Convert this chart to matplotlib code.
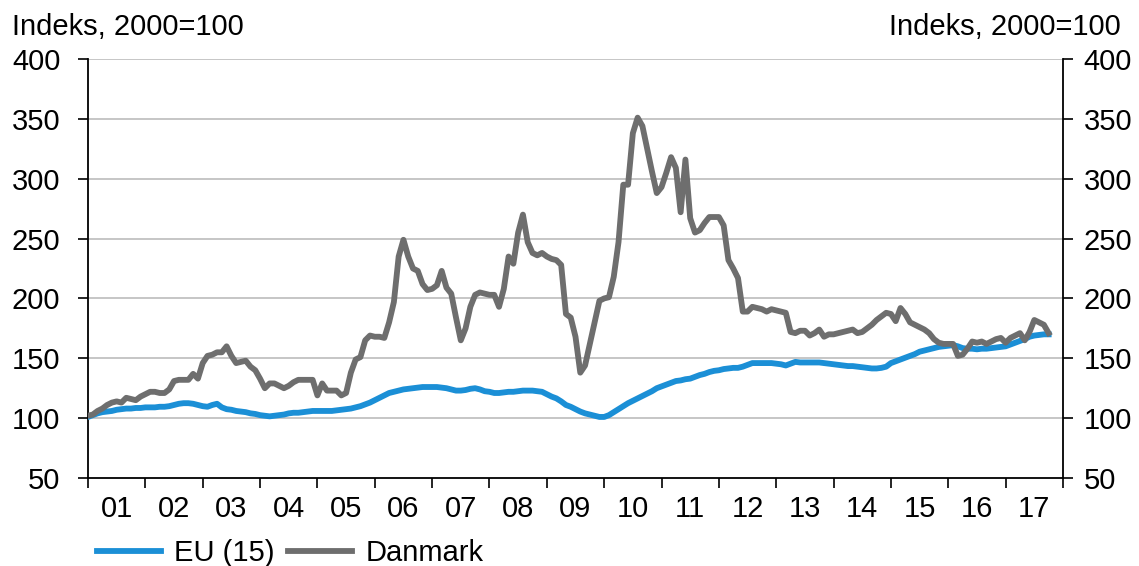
import matplotlib
matplotlib.use("Agg")
import matplotlib.pyplot as plt
from matplotlib.ticker import FixedLocator, NullFormatter, FixedFormatter

plt.rcParams['font.family'] = ['Liberation Sans', 'DejaVu Sans']

# Monthly index values, Jan 2001 - Oct 2017 (2000=100)
danmark = [
    # 2001
    102, 103, 106, 108, 111, 113, 114, 113, 117, 116, 115, 118,
    # 2002
    120, 122, 122, 121, 121, 124, 131, 132, 132, 132, 137, 133,
    # 2003
    146, 152, 153, 155, 155, 160, 152, 146, 147, 148, 143, 140,
    # 2004
    133, 125, 129, 129, 127, 125, 127, 130, 132, 132, 132, 132,
    # 2005
    119, 129, 123, 123, 123, 119, 121, 138, 149, 151, 165, 169,
    # 2006
    168, 168, 167, 180, 197, 235, 249, 235, 225, 223, 212, 207,
    # 2007
    208, 211, 223, 209, 204, 184, 165, 175, 193, 203, 205, 204,
    # 2008
    203, 203, 193, 208, 235, 229, 255, 270, 247, 238, 236, 238,
    # 2009
    235, 233, 232, 228, 187, 184, 168, 138, 144, 162, 180, 198,
    # 2010
    200, 201, 218, 247, 295, 295, 338, 351, 344, 325, 306, 288,
    # 2011
    293, 305, 318, 309, 272, 316, 267, 255, 257, 263, 268, 268,
    # 2012
    268, 261, 232, 225, 217, 189, 189, 193, 192, 191, 189, 191,
    # 2013
    190, 189, 188, 172, 171, 173, 173, 169, 171, 174, 168, 170,
    # 2014
    170, 171, 172, 173, 174, 171, 172, 175, 178, 182, 185, 188,
    # 2015
    187, 181, 192, 187, 180, 178, 176, 174, 171, 166, 163, 162,
    # 2016
    162, 162, 152, 153, 158, 164, 163, 164, 162, 164, 166, 167,
    # 2017
    163, 167, 169, 171, 165, 172, 182, 180, 178, 171,
]

eu15 = [
    # 2001
    101, 102.5, 104, 105, 105.5, 106, 107, 107.5, 108, 108, 108.5, 108.5,
    # 2002
    109, 109, 109, 109.5, 109.5, 110, 111, 112, 112.5, 112.5, 112, 111,
    # 2003
    110, 109.5, 111, 112, 109, 107.5, 107, 106, 105.5, 105, 104, 103.5,
    # 2004
    102.5, 102, 101.5, 102, 102.5, 103, 104, 104.5, 104.5, 105, 105.5, 106,
    # 2005
    106, 106, 106, 106, 106.5, 107, 107.5, 108, 109, 110, 111.5, 113,
    # 2006
    115, 117, 119, 121, 122, 123, 124, 124.5, 125, 125.5, 126, 126,
    # 2007
    126, 126, 125.5, 125, 124, 123, 123, 123.5, 124.5, 125, 124, 122.5,
    # 2008
    122, 121, 121, 121.5, 122, 122, 122.5, 123, 123, 123, 122.5, 122,
    # 2009
    120, 118, 116.5, 114, 111, 109.5, 107.5, 105.5, 104, 103, 102, 101,
    # 2010
    101, 102.5, 105, 107.5, 110, 112.5, 114.5, 116.5, 118.5, 120.5, 122.5, 125,
    # 2011
    126.5, 128, 129.5, 131, 131.5, 132.5, 133, 134.5, 136, 137, 138.5, 139.5,
    # 2012
    140, 141, 141.5, 142, 142, 143, 144.5, 146, 146, 146, 146, 146,
    # 2013
    145.5, 145, 144, 145.5, 147, 146.5, 146.5, 146.5, 146.5, 146.5, 146, 145.5,
    # 2014
    145, 144.5, 144, 143.5, 143.5, 143, 142.5, 142, 141.5, 141.5, 142, 143,
    # 2015
    146, 147.5, 149, 150.5, 152, 153.5, 155.5, 156.5, 157.5, 158.5, 159.5, 160,
    # 2016
    160.5, 161, 160, 158.5, 158, 158, 157.5, 158, 158, 158.5, 159, 159.5,
    # 2017
    160, 161.5, 163, 164.5, 166, 168, 169, 169.5, 170, 170,
]

start_year = 2001
year_labels = ['01', '02', '03', '04', '05', '06', '07', '08', '09',
               '10', '11', '12', '13', '14', '15', '16', '17']
y_ticks = [50, 100, 150, 200, 250, 300, 350, 400]
series_names = ['EU (15)', 'Danmark']
axis_title = 'Indeks, 2000=100'

x_dk = [start_year + i / 12 for i in range(len(danmark))]
x_eu = [start_year + i / 12 for i in range(len(eu15))]

FS = 21
blue = '#1B8FD6'
gray = '#6E6E6E'

fig = plt.figure(figsize=(11.39, 5.66), dpi=100)
ax = fig.add_axes([88 / 1139, 1 - 478 / 566, (1063 - 88) / 1139, (478 - 59) / 566])

for y in y_ticks[1:]:
    ax.axhline(y, color='#C6C6C6', lw=1.4, zorder=0)

ax.plot(x_eu, eu15, color=blue, lw=4.2, label=series_names[0], zorder=3)
ax.plot(x_dk, danmark, color=gray, lw=4.2, label=series_names[1], zorder=4)

ax.set_xlim(start_year, start_year + len(year_labels))
ax.set_ylim(50, 400)

ax.set_yticks(y_ticks)
ax.tick_params(axis='y', which='both', direction='out', length=7, width=1.2,
               labelsize=FS, left=True, right=True, labelleft=True,
               labelright=True, pad=8)

major_x = [start_year + k for k in range(len(year_labels) + 1)]
minor_x = [start_year + k + 0.5 for k in range(len(year_labels))]
ax.xaxis.set_major_locator(FixedLocator(major_x))
ax.xaxis.set_major_formatter(NullFormatter())
ax.xaxis.set_minor_locator(FixedLocator(minor_x))
ax.xaxis.set_minor_formatter(FixedFormatter(year_labels))
ax.tick_params(axis='x', which='major', direction='out', length=7, width=1.2)
ax.tick_params(axis='x', which='minor', length=0, labelsize=FS, pad=12)

for side in ['left', 'right', 'bottom']:
    ax.spines[side].set_color('black')
    ax.spines[side].set_linewidth(1.3)
ax.spines['top'].set_visible(False)

for t in ax.yaxis.get_major_ticks():
    t.label1.set_x(-0.007)

fig.text(12 / 1139, 1 - 35 / 566, axis_title, fontsize=FS, ha='left', va='baseline')
fig.text(1121 / 1139, 1 - 35 / 566, axis_title, fontsize=FS, ha='right', va='baseline')

leg = fig.legend(loc='center left', bbox_to_anchor=(97 / 1139, 1 - 553 / 566),
                 ncol=2, frameon=False, fontsize=FS, handlelength=2.2,
                 handletextpad=0.45, columnspacing=0.45, borderpad=0,
                 borderaxespad=0)

fig.savefig('out.png', dpi=100)
